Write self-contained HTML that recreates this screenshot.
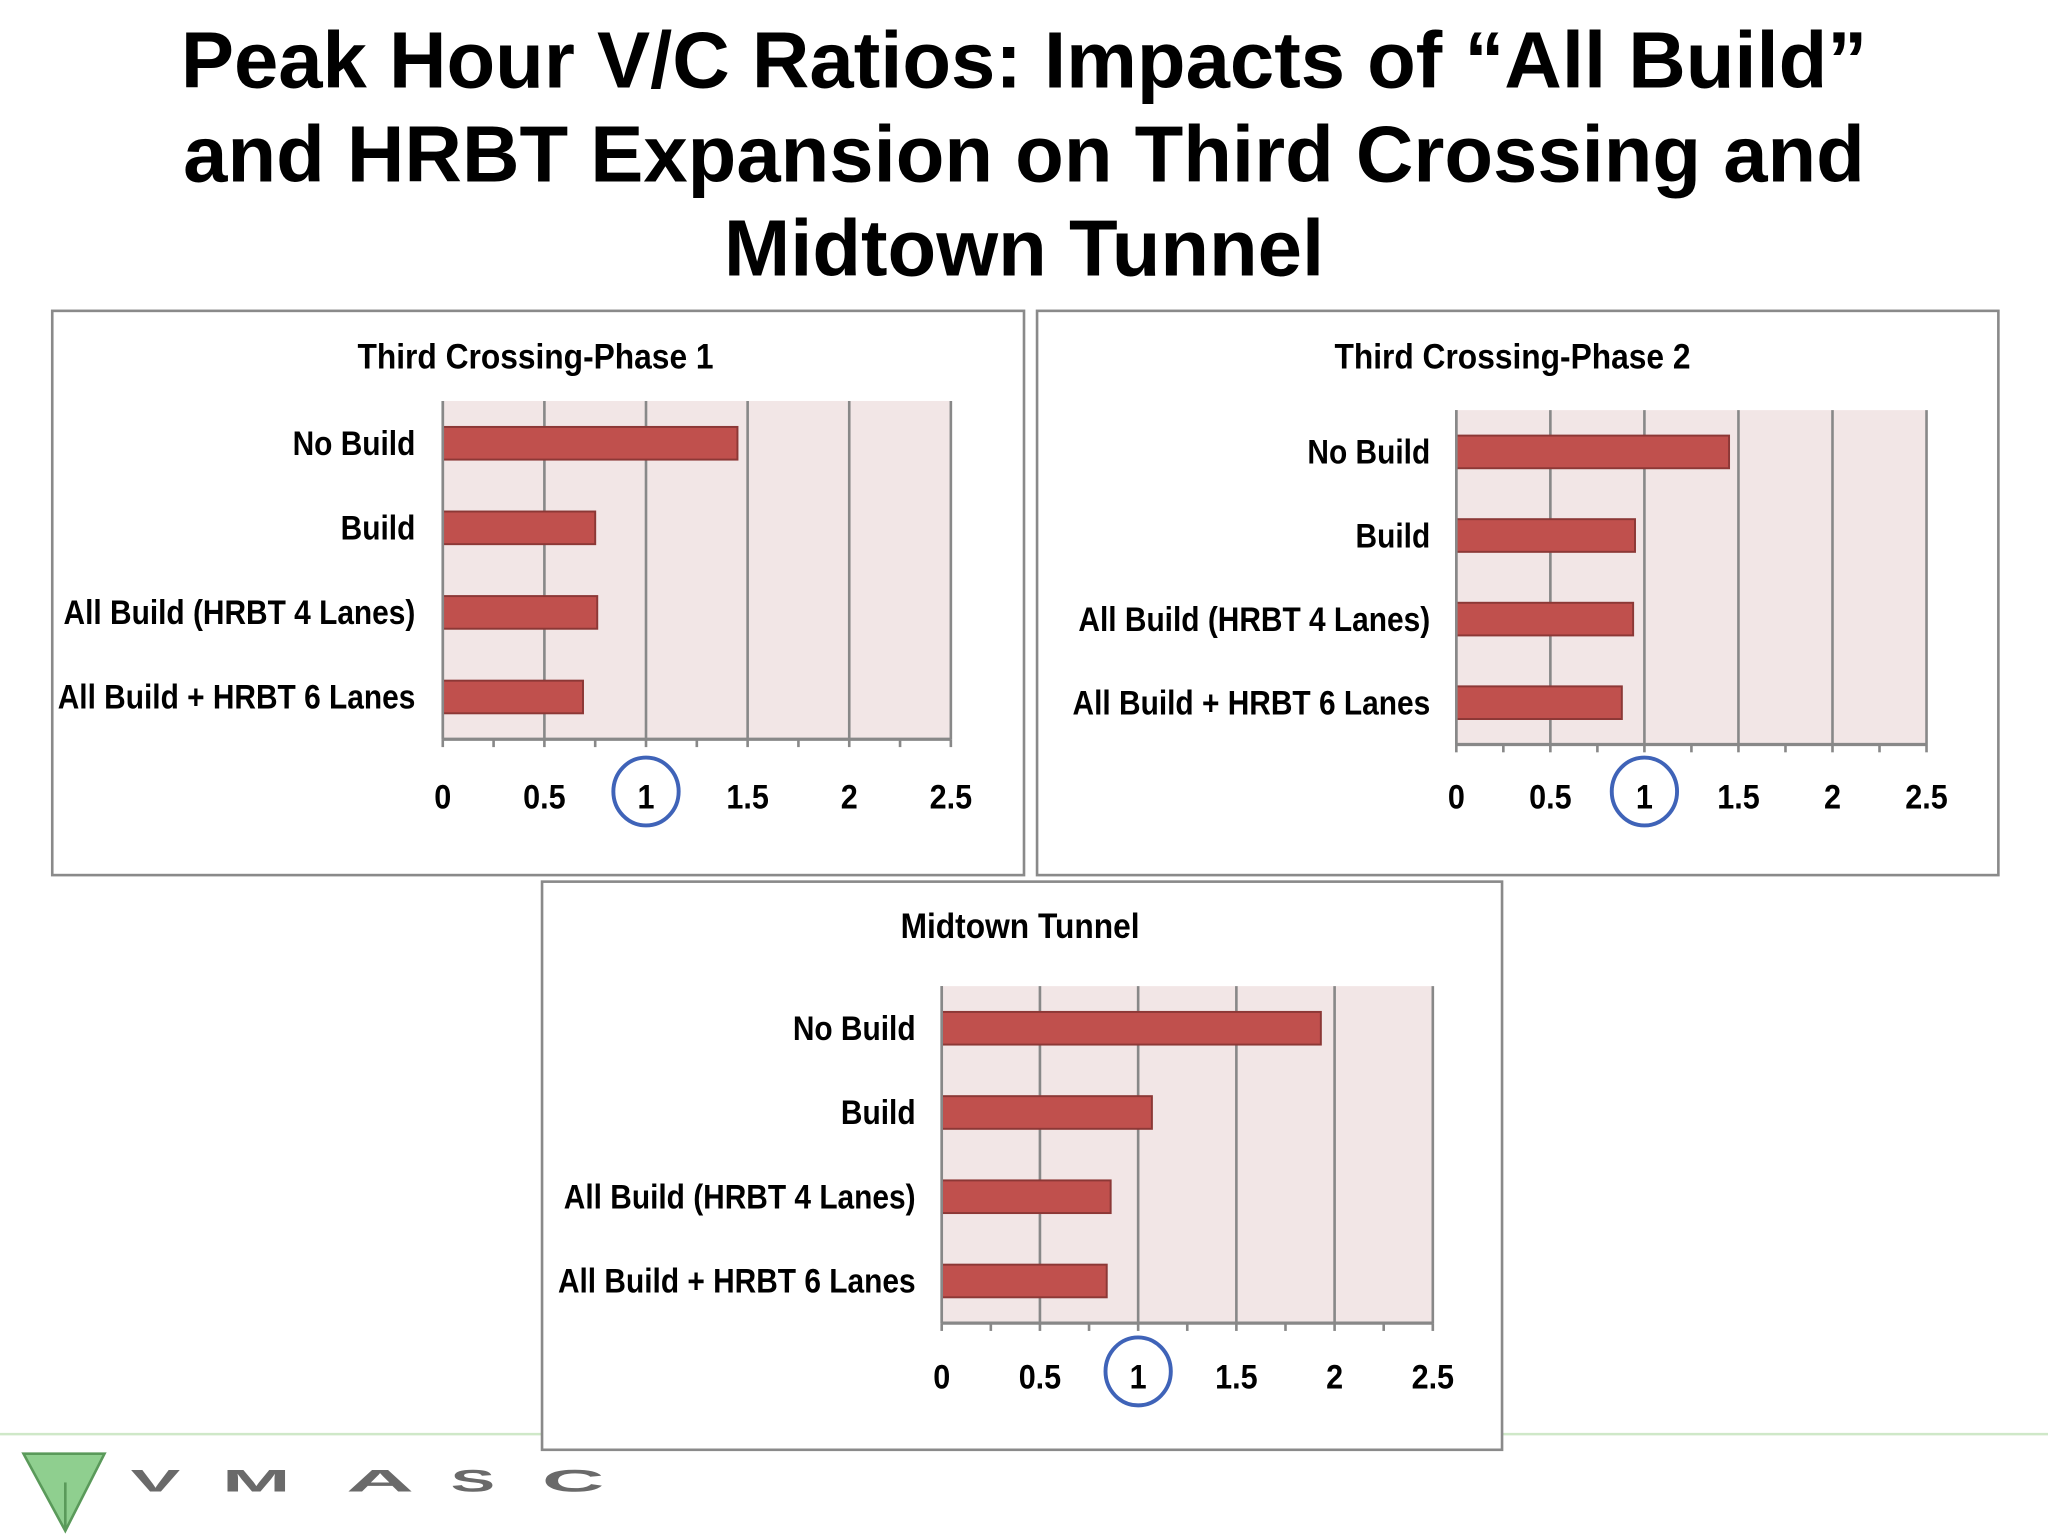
<!DOCTYPE html>
<html><head><meta charset="utf-8"><style>
html,body{margin:0;padding:0;background:#fff}
svg{display:block}
</style></head><body>
<svg id="s" width="2048" height="1536" viewBox="0 0 1568 1176" xmlns="http://www.w3.org/2000/svg">
<g font-family="Liberation Sans, sans-serif" font-weight="bold" font-size="61" text-anchor="middle" fill="#000">
<text x="784" y="67">Peak Hour V/C Ratios: Impacts of “All Build”</text>
<text x="784" y="139">and HRBT Expansion on Third Crossing and</text>
<text x="784" y="211">Midtown Tunnel</text>
</g>
<line x1="0" y1="1098" x2="1568" y2="1098" stroke="#cfe8c8" stroke-width="2"/>
<g font-family="Liberation Sans, sans-serif" font-weight="bold" fill="#6a6a6a">
<polygon points="18,1113 80,1113 50,1172" fill="#8fcf8f" stroke="#5a9a5a" stroke-width="2"/>
<line x1="50" y1="1135" x2="50" y2="1172" stroke="#5a9a5a" stroke-width="2"/>
<text transform="translate(100,1142) scale(1.9,0.8)" font-size="30">V</text>
<text transform="translate(170,1142) scale(2.1,0.8)" font-size="30">M</text>
<text transform="translate(265,1142) scale(2.4,0.8)" font-size="30">A</text>
<text transform="translate(345,1142) scale(1.7,0.8)" font-size="30">S</text>
<text transform="translate(415,1142) scale(2.2,0.8)" font-size="30">C</text>
</g>
<g id="charts"></g>
</svg>
<script>
const categories = ["No Build","Build","All Build (HRBT 4 Lanes)","All Build + HRBT 6 Lanes"];
const phase1Values = [1.45, 0.75, 0.76, 0.69];
const phase2Values = [1.45, 0.95, 0.94, 0.88];
const midtownValues = [1.93, 1.07, 0.86, 0.84];
const tickLabels = ["0","0.5","1","1.5","2","2.5"];
const tickValues = [0,0.5,1,1.5,2,2.5];
const chartTitles = ["Third Crossing-Phase  1","Third Crossing-Phase  2","Midtown Tunnel"];

const NS="http://www.w3.org/2000/svg";
const root=document.getElementById('charts');
function mk(tag,attrs,parent){const e=document.createElementNS(NS,tag);for(const k in attrs)e.setAttribute(k,attrs[k]);parent.appendChild(e);return e;}
const FF='Liberation Sans, sans-serif';

const layouts=[
 {box:[40,238,744,432],px:[339,728],py:[307,566],title:[410,273],labelX:318,tickY:610,vals:phase1Values,name:'phase1'},
 {box:[794,238,736,432],px:[1115,1475],py:[314,570],title:[1158,273],labelX:1095,tickY:610,vals:phase2Values,name:'phase2'},
 {box:[415,675,735,435],px:[721,1097],py:[755,1013],title:[781,709],labelX:701,tickY:1054,vals:midtownValues,name:'midtown'}
];
layouts.forEach((L,ci)=>{
 const g=mk('g',{},root);
 
 
 const b=mk('rect',{x:L.box[0],y:L.box[1],width:L.box[2],height:L.box[3],fill:'#fff',stroke:'#8a8a8a','stroke-width':2},g);
 
 
 const t=mk('text',{transform:`translate(${L.title[0]},${L.title[1]+9}) scale(0.9,1)`,'text-anchor':'middle','font-family':FF,'font-weight':'bold','font-size':27},g);
 t.textContent=chartTitles[ci];
 
 
 const xs=v=>L.px[0]+(L.px[1]-L.px[0])*v/2.5;
 const bg=mk('rect',{x:L.px[0],y:L.py[0],width:L.px[1]-L.px[0],height:L.py[1]-L.py[0],fill:'#f2e6e6'},g);
 
 
 tickValues.forEach((v,i)=>{
  const gl=mk('line',{x1:xs(v),x2:xs(v),y1:L.py[0],y2:L.py[1],stroke:'#888','stroke-width':2},g);
  
  
  const tl=mk('text',{transform:`translate(${xs(v)},${L.tickY+9}) scale(0.9,1)`,'text-anchor':'middle','font-family':FF,'font-weight':'bold','font-size':26},g);
  tl.textContent=tickLabels[i];
  
  
 });
 for(let i=0;i<=10;i++){const v=i*0.25;
  const tk=mk('line',{x1:xs(v),x2:xs(v),y1:L.py[1],y2:L.py[1]+6,stroke:'#888','stroke-width':2},g);
  
  
 }
 const ax=mk('line',{x1:L.px[0],x2:L.px[1],y1:L.py[1],y2:L.py[1],stroke:'#888','stroke-width':2.5},g);
 
 
 const band=(L.py[1]-L.py[0])/4;
 L.vals.forEach((v,i)=>{
  const cy=L.py[0]+band*(i+0.5);
  const r=mk('rect',{x:L.px[0],y:cy-12.5,width:xs(v)-L.px[0],height:25,fill:'#c0504d',stroke:'#8c3836','stroke-width':1.5},g);
  
  
  const lb=mk('text',{transform:`translate(${L.labelX},${cy+9}) scale(0.88,1)`,'text-anchor':'end','font-family':FF,'font-weight':'bold','font-size':26},g);
  lb.textContent=categories[i];
  
  
 });
 const yax=mk('line',{x1:L.px[0],x2:L.px[0],y1:L.py[0],y2:L.py[1],stroke:'#888','stroke-width':2},g);
 
 
 const c=mk('ellipse',{cx:xs(1),cy:L.tickY-4,rx:25,ry:26,fill:'none',stroke:'#3f63b8','stroke-width':3},g);
 
 
});
</script>
</body></html>
